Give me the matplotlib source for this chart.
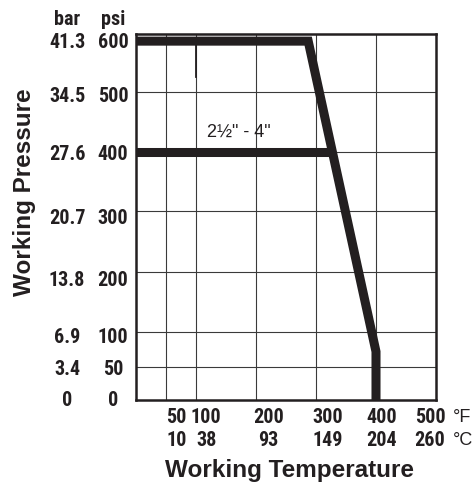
import numpy as np
import matplotlib
matplotlib.use('Agg')
import matplotlib.pyplot as plt

# pressure / temperature rating curve
temp_f = [0, 287, 400, 400]
psi_limit = [600, 600, 72, 0]
# 2 1/2" - 4" sizes
bar_temp = [0, 327]
bar_psi = [400, 400]

psi_ticks = [0, 50, 100, 200, 300, 400, 500, 600]
psi_labels = ['0', '50', '100', '200', '300', '400', '500', '600']
bar_labels = ['0', '3.4', '6.9', '13.8', '20.7', '27.6', '34.5', '41.3']
f_ticks = [50, 100, 200, 300, 400, 500]
f_labels = ['50', '100', '200', '300', '400', '500']
c_labels = ['10', '38', '93', '149', '204', '260']

# the printed chart has an uneven pressure axis, map psi -> drawing units
P_REF = [0, 50, 100, 200, 300, 400, 500, 600, 700]
POS_REF = [0, 33, 68, 128, 189, 248, 308, 359, 410]
def fwd(v):
    return np.interp(v, P_REF, POS_REF)
def inv(v):
    return np.interp(v, POS_REF, P_REF)

# where the printed labels sit
psi_label_pos = [0, 48, 93, 188, 290, 397, 495, 600]
f_label_pos = [67, 117, 221, 320, 410, 490]

ink = '#231f20'
num_font = dict(family=['Roboto Condensed', 'DejaVu Sans'], weight='bold', size=14.5, color=ink)
unit_font = dict(family=['Liberation Sans', 'DejaVu Sans'], size=13, color=ink)
title_font = dict(family=['Liberation Sans', 'DejaVu Sans'], weight='bold', size=17.5, color=ink)

fig = plt.figure(figsize=(4.76, 4.89), dpi=100)
ax = fig.add_axes([136/476, 1 - 401/489, 300/476, 366/489])
ax.set_yscale('function', functions=(fwd, inv))
ax.set_xlim(0, 500)
ax.set_ylim(0, 614)

ax.set_xticks(f_ticks[:-1])
ax.set_yticks(psi_ticks[1:-1])
ax.tick_params(length=0, labelbottom=False, labelleft=False)
ax.grid(True, color='#3a3a3a', linewidth=0.8)
for s in ax.spines.values():
    s.set_linewidth(1.8)
    s.set_color(ink)

ax.plot(temp_f, psi_limit, color=ink, linewidth=6.5, solid_joinstyle='miter', solid_capstyle='butt', zorder=3)
ax.plot(bar_temp, bar_psi, color=ink, linewidth=6.5, solid_capstyle='butt', zorder=3)
ax.plot([100, 100], [600, 530], color=ink, linewidth=1.3, zorder=2)
ax.text(172, 435, '2\u00bd" - 4"', ha='center', va='center', fontsize=13,
        family=['Liberation Sans', 'DejaVu Sans'], color=ink)

# pressure labels, bar and psi columns
ty = ax.get_yaxis_transform()
for p, b, s in zip(psi_label_pos, bar_labels, psi_labels):
    ax.text(-0.23, p, b, transform=ty, ha='center', va='center', **num_font)
    ax.text(-0.077, p, s, transform=ty, ha='center', va='center', **num_font)
ax.text(-0.23, 1.041, 'bar', transform=ax.transAxes, ha='center', va='center', **num_font)
ax.text(-0.077, 1.041, 'psi', transform=ax.transAxes, ha='center', va='center', **num_font)

# temperature labels, F and C rows
tx = ax.get_xaxis_transform()
for x, f, c in zip(f_label_pos, f_labels, c_labels):
    ax.text(x, -0.044, f, transform=tx, ha='center', va='center', **num_font)
    ax.text(x, -0.107, c, transform=tx, ha='center', va='center', **num_font)
ax.text(1.057, -0.044, '\u00b0F', transform=ax.transAxes, ha='left', va='center', **unit_font)
ax.text(1.057, -0.107, '\u00b0C', transform=ax.transAxes, ha='left', va='center', **unit_font)

ax.text(0.512, -0.19, 'Working Temperature', transform=ax.transAxes, ha='center', va='center', **title_font)
ax.text(-0.37, 0.57, 'Working Pressure', transform=ax.transAxes, ha='center', va='center',
        rotation=90, **title_font)

fig.savefig('out.png', dpi=100)
